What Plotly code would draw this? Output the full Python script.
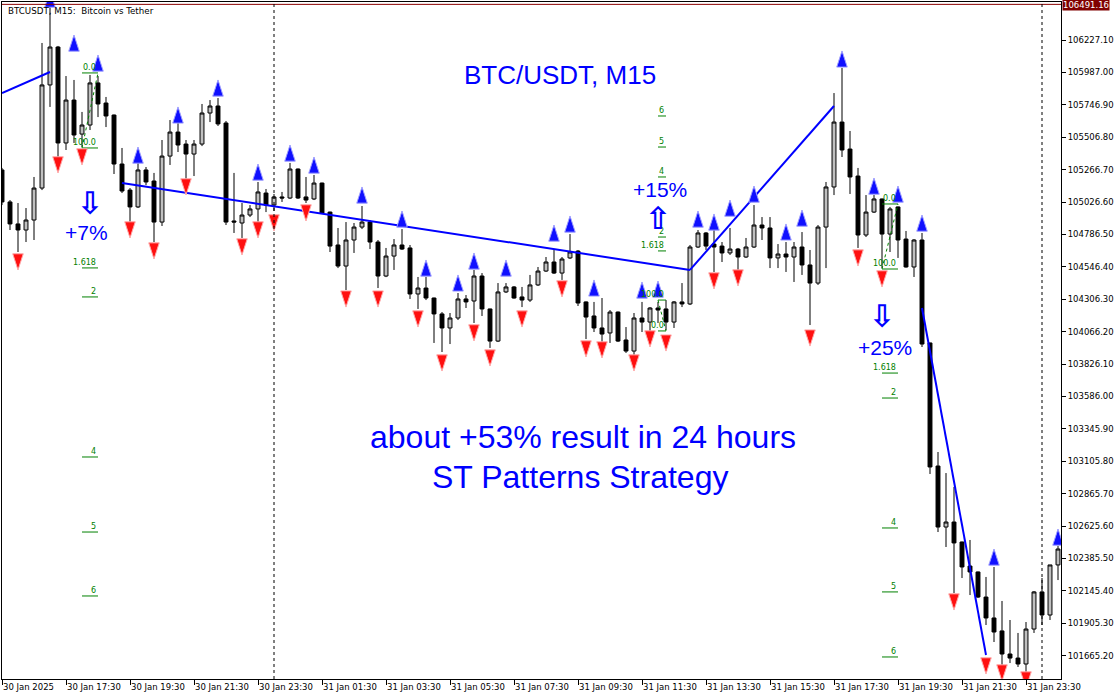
import pandas as pd
import plotly.graph_objects as go

# ---------------- data ----------------
times = pd.date_range("2025-01-30 15:30", periods=133, freq="15min")

open_ = [105264, 105027, 104864, 104819, 104893, 105130, 105894, 106175, 105464, 105782,
         105530, 105597, 105909, 105760, 105671, 105308, 105115, 104990, 105264, 105182,
         104878, 105367, 105545, 105456, 105382, 105456, 105686, 105738, 105612, 104886,
         104871, 104930, 104975, 105093, 105004, 105064, 105056, 105271, 105064, 105049,
         105167, 104952, 104708, 104552, 104745, 104841, 104878, 104730, 104478, 104626,
         104708, 104686, 104345, 104389, 104315, 104197, 104093, 104167, 104308, 104293,
         104478, 104234, 103996, 104360, 104397, 104323, 104300, 104412, 104515, 104582,
         104500, 104612, 104663, 104286, 104182, 104093, 104056, 104211, 104004, 103922,
         104167, 104137, 104241, 104234, 104137, 104286, 104271, 104693, 104797, 104715,
         104700, 104649, 104678, 104619, 104693, 104856, 104834, 104612, 104641, 104619,
         104693, 104560, 104426, 104841, 105138, 105619, 105419, 105219, 104782, 104952,
         105049, 104789, 104990, 104752, 104545, 104745, 103982, 103070, 102618, 102655,
         102507, 102329, 102285, 102099, 101944, 101848, 101677, 101647, 101603, 101862,
         102137, 101966, 102337]
high_ = [105279, 105041, 105019, 104982, 105212, 106205, 106491, 106183, 105960, 105931,
         105694, 105968, 105960, 105805, 105675, 105427, 105130, 105316, 105286, 105242,
         105486, 105634, 105612, 105486, 105486, 105753, 105782, 105797, 105627, 105242,
         105019, 105004, 105175, 105123, 105086, 105101, 105316, 105275, 105212, 105227,
         105170, 104955, 104834, 104878, 104871, 104997, 104893, 104745, 104686, 104752,
         104826, 104708, 104471, 104471, 104318, 104211, 104204, 104352, 104337, 104523,
         104500, 104236, 104426, 104426, 104404, 104397, 104486, 104545, 104619, 104671,
         104619, 104789, 104671, 104290, 104286, 104315, 104226, 104215, 104100, 104204,
         104286, 104248, 104286, 104300, 104293, 104426, 104708, 104819, 104804, 104834,
         104730, 104834, 104686, 104760, 105004, 104915, 104915, 104715, 104730, 104730,
         104804, 104671, 104856, 105175, 105834, 106020, 105553, 105279, 105078, 105078,
         105052, 104990, 104993, 104812, 104752, 104797, 103984, 103174, 103018, 102915,
         102510, 102522, 102288, 102248, 102322, 102070, 101929, 101833, 101914, 102144,
         102240, 102337, 102477]
low_ = [105004, 104819, 104656, 104730, 104745, 105115, 105731, 105360, 105412, 105464,
        105434, 105560, 105656, 105582, 105234, 105093, 104878, 104982, 105152, 104730,
        104849, 105301, 105397, 105197, 105219, 105441, 105619, 105590, 104856, 104797,
        104760, 104915, 104878, 104952, 104960, 105027, 105049, 105049, 105019, 105041,
        104938, 104656, 104537, 104374, 104649, 104826, 104678, 104389, 104470, 104523,
        104671, 104308, 104234, 104300, 103982, 103915, 103974, 104152, 104241, 104130,
        104182, 103945, 103989, 104352, 104310, 104248, 104286, 104404, 104508, 104493,
        104449, 104604, 104256, 104011, 104063, 103952, 103982, 103989, 103908, 103893,
        104063, 104063, 104130, 104078, 104093, 104248, 104263, 104686, 104671, 104508,
        104582, 104634, 104523, 104612, 104686, 104745, 104537, 104537, 104508, 104434,
        104486, 104115, 104412, 104537, 105078, 105360, 105086, 104686, 104767, 104945,
        104537, 104656, 104612, 104540, 104471, 103952, 103011, 102581, 102470, 102129,
        102240, 102114, 102092, 101892, 101766, 101596, 101610, 101581, 101536, 101833,
        101892, 101929, 102225]
close_ = [105027, 104864, 104819, 104893, 105130, 105894, 106175, 105464, 105782, 105523,
          105597, 105909, 105753, 105664, 105308, 105108, 104990, 105264, 105175, 104878,
          105367, 105545, 105449, 105382, 105456, 105686, 105738, 105605, 104878, 104878,
          104930, 104975, 105101, 105004, 105064, 105056, 105271, 105056, 105041, 105167,
          104945, 104700, 104552, 104745, 104841, 104878, 104730, 104478, 104626, 104708,
          104678, 104345, 104389, 104315, 104197, 104093, 104167, 104308, 104286, 104478,
          104234, 103996, 104360, 104397, 104315, 104300, 104412, 104515, 104582, 104500,
          104604, 104656, 104278, 104174, 104093, 104048, 104211, 103996, 103922, 104167,
          104137, 104241, 104226, 104137, 104286, 104271, 104693, 104797, 104700, 104693,
          104649, 104678, 104619, 104693, 104856, 104834, 104612, 104641, 104619, 104693,
          104560, 104426, 104841, 105138, 105619, 105412, 105212, 104782, 104952, 105049,
          104789, 104975, 104745, 104545, 104745, 103974, 103063, 102618, 102655, 102500,
          102322, 102285, 102099, 101944, 101840, 101677, 101647, 101603, 101862, 102137,
          101966, 102337, 102455]

y_tick_values = [106227.10, 105987.00, 105746.90, 105506.80, 105266.70, 105026.60,
                 104786.50, 104546.40, 104306.30, 104066.20, 103826.10, 103586.00,
                 103345.90, 103105.80, 102865.70, 102625.60, 102385.50, 102145.40,
                 101905.30, 101665.20]
x_tick_idx = [0, 8, 16, 24, 32, 40, 48, 56, 64, 72, 80, 88, 96, 104, 112, 120, 128]
x_tick_labels = ["30 Jan 2025", "30 Jan 17:30", "30 Jan 19:30", "30 Jan 21:30",
                 "30 Jan 23:30", "31 Jan 01:30", "31 Jan 03:30", "31 Jan 05:30",
                 "31 Jan 07:30", "31 Jan 09:30", "31 Jan 11:30", "31 Jan 13:30",
                 "31 Jan 15:30", "31 Jan 17:30", "31 Jan 19:30", "31 Jan 21:30",
                 "31 Jan 23:30"]
day_separators = ["2025-01-31 00:00", "2025-02-01 00:00"]
top_line_price = 106491.16

# trade lines (bar index, price)
trend_start_idx = [0, 15, 86, 115]
trend_end_idx = [6, 86, 104, 123]
trend_start_price = [105834, 105167, 104523, 104241]
trend_end_price = [105990, 104523, 105738, 101670]

# pattern signal arrows (tip prices)
up_idx = [6, 9, 12, 17, 22, 27, 32, 36, 39, 45, 50, 53, 57, 59, 63, 69, 71, 74, 80, 82,
          87, 89, 91, 94, 98, 100, 105, 109, 112, 115, 124, 132]
up_price = [106590, 106264, 106116, 105434, 105731, 105931, 105308, 105449, 105360, 105138,
            104960, 104597, 104486, 104649, 104597, 104856, 104923, 104449, 104434, 104441,
            104960, 104938, 105041, 105145, 104864, 104967, 106146, 105204, 105145, 104930,
            102455, 102603]
dn_idx = [2, 7, 10, 16, 19, 23, 30, 32, 34, 38, 43, 47, 52, 55, 59, 61, 65, 70, 73, 75,
          79, 81, 83, 89, 92, 101, 107, 110, 119, 123, 125, 128]
dn_price = [104523, 105242, 105301, 104760, 104604, 105079, 104634, 104760, 104812, 104886,
            104248, 104248, 104100, 103774, 103997, 103811, 104100, 104323, 103878, 103871,
            103774, 103952, 103922, 104382, 104404, 103959, 104552, 104397, 102003, 101529,
            101477, 101425]

# Fibonacci expansion levels
fib_A_span = (10, 12)
fib_A_labels = ["0.0", "100.0", "1.618", "2", "4", "5", "6"]
fib_A_prices = [105983, 105427, 104538, 104323, 103137, 102581, 102107]
fib_B_span = (82, 83)
fib_B_labels = ["100.0", "0.0", "1.618", "2", "4", "5", "6"]
fib_B_prices = [104300, 104071, 104664, 104767, 105212, 105434, 105664]
fib_C_span = (110, 112)
fib_C_labels = ["0.0", "100.0", "1.618", "2", "4", "5", "6"]
fib_C_prices = [105012, 104530, 103759, 103574, 102611, 102137, 101655]

# results
pct_text = ["+7%", "+15%", "+25%"]
pct_idx = [10.6, 82.3, 110.4]
pct_price = [104804, 105116, 103952]
sig_glyph = ["\u21e9", "\u21e7", "\u21e9"]
sig_idx = [11, 82, 110]
sig_price = [105019, 104908, 104182]

title_text = "BTCUSDT, M15:\u00a0 Bitcoin vs Tether"
headline = "BTC/USDT, M15"
caption1 = "about +53% result in 24 hours"
caption2 = "ST Patterns Strategy"


def t(i):
    return times[0] + pd.Timedelta(minutes=15 * i)


BLUE = "#0000ff"
GREEN = "#008000"

fig = go.Figure()

fig.add_trace(go.Candlestick(
    x=times, open=open_, high=high_, low=low_, close=close_,
    increasing=dict(line=dict(color="black", width=1), fillcolor="#c0c0c0"),
    decreasing=dict(line=dict(color="black", width=1), fillcolor="black"),
    whiskerwidth=0, hoverinfo="skip", showlegend=False))

# trade lines
tx, ty = [], []
for s, e, ps, pe in zip(trend_start_idx, trend_end_idx, trend_start_price, trend_end_price):
    tx += [t(s), t(e), None]
    ty += [ps, pe, None]
fig.add_trace(go.Scatter(x=tx, y=ty, mode="lines", line=dict(color=BLUE, width=2),
                         hoverinfo="skip", showlegend=False))

# fib levels
fx, fy, dx, dy = [], [], [], []
fib_annots = []
for span, labels, prices in [(fib_A_span, fib_A_labels, fib_A_prices),
                             (fib_B_span, fib_B_labels, fib_B_prices),
                             (fib_C_span, fib_C_labels, fib_C_prices)]:
    s, e = span
    for lab, p in zip(labels, prices):
        fx += [t(s), t(e), None]
        fy += [p, p, None]
        fib_annots.append(dict(x=t(e), y=p, xref="x", yref="y", text=lab, showarrow=False,
                               xanchor="right", yanchor="bottom", yshift=-1,
                               font=dict(family="DejaVu Sans", size=8, color=GREEN)))
    p100 = prices[labels.index("100.0")]
    p0 = prices[labels.index("0.0")]
    dx += [t(s), t(e), None]
    dy += [p100, p0, None]
fig.add_trace(go.Scatter(x=fx, y=fy, mode="lines", line=dict(color=GREEN, width=1),
                         hoverinfo="skip", showlegend=False))
fig.add_trace(go.Scatter(x=dx, y=dy, mode="lines", line=dict(color=GREEN, width=1, dash="dot"),
                         hoverinfo="skip", showlegend=False))

# signal arrows
fig.add_trace(go.Scatter(x=[t(i) for i in up_idx], y=up_price, mode="markers",
                         marker=dict(symbol="arrow", size=17, color="#1010ff",
                                     line=dict(color="#a0a0ff", width=1)),
                         hoverinfo="skip", showlegend=False))
fig.add_trace(go.Scatter(x=[t(i) for i in dn_idx], y=dn_price, mode="markers",
                         marker=dict(symbol="arrow", angle=180, size=17, color="#ff1010",
                                     line=dict(color="#ffaaaa", width=1)),
                         hoverinfo="skip", showlegend=False))

annots = list(fib_annots)
for txt, i, p in zip(pct_text, pct_idx, pct_price):
    annots.append(dict(x=t(i), y=p, xref="x", yref="y", text=txt, showarrow=False,
                       xanchor="center", yanchor="middle",
                       font=dict(family="Liberation Sans", size=21, color=BLUE)))
for g, i, p in zip(sig_glyph, sig_idx, sig_price):
    annots.append(dict(x=t(i), y=p, xref="x", yref="y", text=g, showarrow=False,
                       xanchor="center", yanchor="middle",
                       font=dict(family="DejaVu Sans", size=31, color=BLUE, weight="bold")))

annots.append(dict(x=0, y=1, xref="paper", yref="paper", xanchor="left", yanchor="top",
                   xshift=4, yshift=-2, text=title_text, showarrow=False,
                   font=dict(family="DejaVu Sans", size=8.7, color="black")))
annots.append(dict(x=0.527, y=0.892, xref="paper", yref="paper", text=headline,
                   xanchor="center", yanchor="middle",
                   showarrow=False, font=dict(family="Liberation Sans", size=26, color=BLUE)))
annots.append(dict(x=0.549, y=0.357, xref="paper", yref="paper", text=caption1,
                   xanchor="center", yanchor="middle",
                   showarrow=False, font=dict(family="Liberation Sans", size=32, color=BLUE)))
annots.append(dict(x=0.546, y=0.298, xref="paper", yref="paper", text=caption2,
                   xanchor="center", yanchor="middle",
                   showarrow=False, font=dict(family="Liberation Sans", size=32, color=BLUE)))
annots.append(dict(x=1, y=top_line_price, xref="paper", yref="y", xanchor="left",
                   yanchor="middle", xshift=1, yshift=-1, text="%.2f" % top_line_price,
                   showarrow=False, bgcolor="#800000", borderpad=0,
                   font=dict(family="DejaVu Sans", size=8.5, color="white")))

shapes = [dict(type="line", xref="paper", yref="y", x0=0, x1=1, y0=top_line_price,
               y1=top_line_price, line=dict(color="#8b0000", width=1))]
for d in day_separators:
    shapes.append(dict(type="line", xref="x", yref="paper", x0=d, x1=d, y0=0, y1=1,
                       line=dict(color="black", width=1, dash="3px,3px")))

fig.update_layout(
    width=1118, height=700,
    margin=dict(l=2, r=57, t=2, b=21, autoexpand=False),
    paper_bgcolor="white", plot_bgcolor="white",
    showlegend=False, hovermode=False,
    annotations=annots, shapes=shapes,
    xaxis=dict(type="date", range=[t(0), t(132.375)], rangeslider=dict(visible=False),
               showgrid=False, zeroline=False, automargin=False,
               tickvals=[times[i] for i in x_tick_idx], ticktext=x_tick_labels,
               ticks="outside", ticklen=5, tickcolor="black",
               ticklabelposition="outside right",
               showline=True, linecolor="black", linewidth=1, mirror=True,
               tickfont=dict(family="DejaVu Sans", size=8.5, color="black")),
    yaxis=dict(side="right", range=[101491.8, 106508.7], showgrid=False, zeroline=False,
               automargin=False,
               tickvals=y_tick_values, ticktext=["%.2f" % v for v in y_tick_values],
               ticks="outside", ticklen=4, tickcolor="black",
               showline=True, linecolor="black", linewidth=1, mirror=True,
               tickfont=dict(family="DejaVu Sans", size=8.5, color="black")),
)

fig.write_html("out.html", config={"displayModeBar": False, "staticPlot": True},
               post_script="document.body.style.margin='0';document.body.style.overflow='hidden';")
